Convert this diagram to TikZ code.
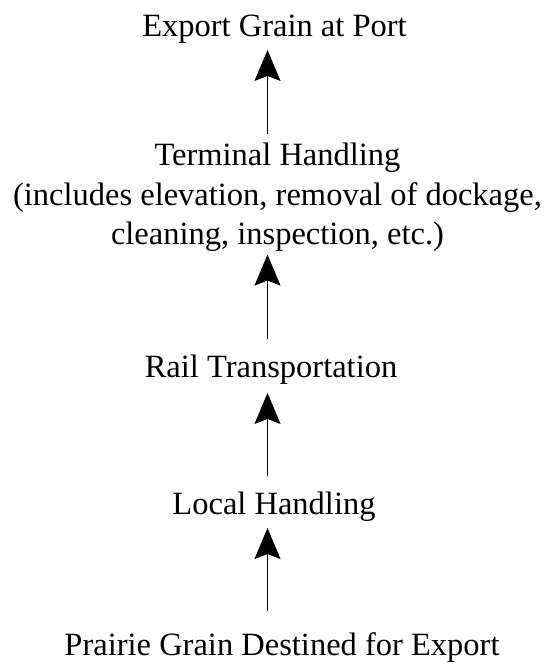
\documentclass[tikz,border=0pt]{standalone}
\usepackage{fontspec}
\setmainfont{Liberation Serif}
\usetikzlibrary{arrows.meta,positioning}

\begin{document}
\begin{tikzpicture}[x=1pt,y=1pt,
    stage/.style={inner sep=0pt,outer sep=0pt,font=\fontsize{32.5}{39.5}\selectfont},
    flow/.style={line width=1pt,-{Stealth[length=31pt,width=26pt,inset=5pt]}}]
  \useasboundingbox (0,0) rectangle (551,669);
  % arrow axis
  \coordinate (axis) at (267.5,0);

  % stages, top to bottom
  \node[stage,anchor=base] (export) at (274.5,632) {Export Grain at Port};
  \node[stage,anchor=north,align=center] (terminal) at (277.5,526)
    {Terminal Handling\\(includes elevation, removal of dockage,\\cleaning, inspection, etc.)};
  \node[stage,anchor=base] (rail) at (271,291) {Rail Transportation};
  \node[stage,anchor=base] (local) at (274,154) {Local Handling};
  \node[stage,anchor=base] (prairie) at (282,13) {Prairie Grain Destined for Export};

  % flows upward
  \draw[flow,shorten <=9pt,shorten >=6pt] (terminal.north -| axis) -- (export.south -| axis);
  \draw[flow,shorten <=16pt,shorten >=3pt] (rail.north -| axis) -- (terminal.south -| axis);
  \draw[flow,shorten <=16pt,shorten >=8pt] (local.north -| axis) -- (rail.south -| axis);
  \draw[flow,shorten <=22pt,shorten >=6pt] (prairie.north -| axis) -- (local.south -| axis);
\end{tikzpicture}
\end{document}
